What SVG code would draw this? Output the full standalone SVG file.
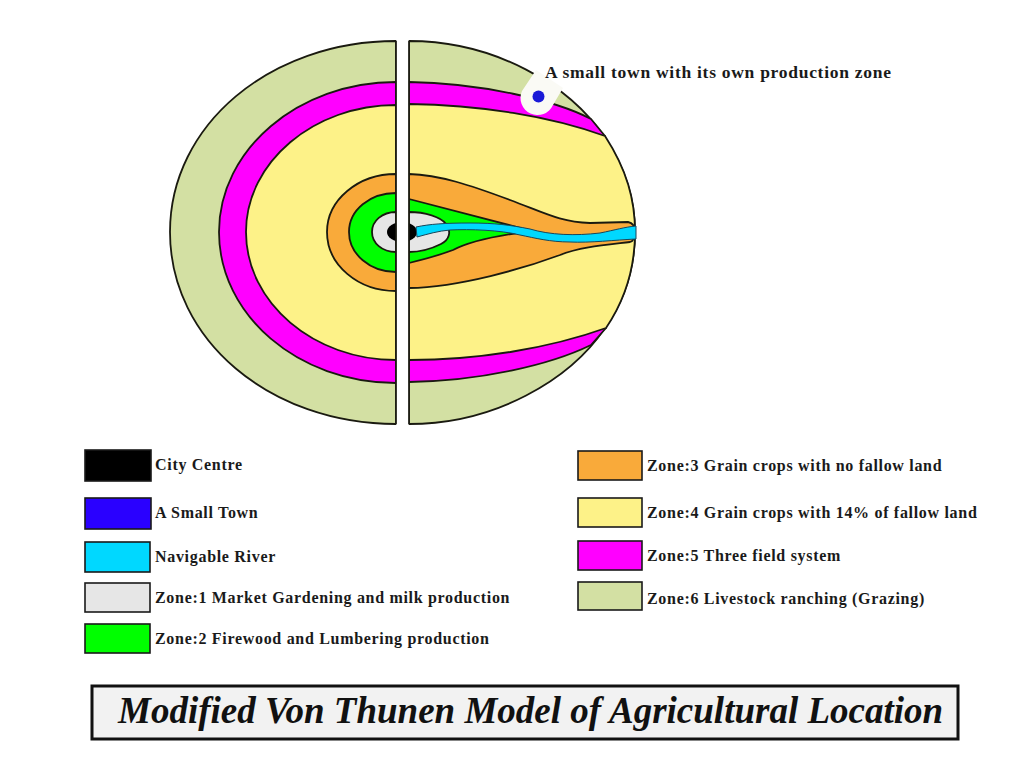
<svg xmlns="http://www.w3.org/2000/svg" width="1024" height="768" viewBox="0 0 1024 768">
<style>
.z{stroke:#1a1a10;stroke-width:1.800;stroke-linejoin:round}
.sw{stroke:#1a1a1a;stroke-width:1.600}
.t{font-family:"Liberation Serif","Times New Roman",serif;font-weight:bold;font-size:16px;letter-spacing:.69px;fill:#1a1a1a}
.big{font-size:17.500px;letter-spacing:.72px}
.title{font-family:"Liberation Serif","Times New Roman",serif;font-weight:bold;font-style:italic;font-size:37px;fill:#111}
</style>
<rect width="1024" height="768" fill="#fff"/>
<g id="zone6">
<path class="z" fill="#d3e0a3" d="M396 41C270 41 170 125 170 232C170 340 270 424 396 424Z"/>
<path class="z" fill="#d3e0a3" d="M409 41C495 41 570 85 605 138C627 170 635 200 635 232C635 265 627 297 605 328C570 380 495 424 409 424Z"/>
</g>
<g id="zone5">
<path class="z" fill="#ff00ff" d="M396 82C298 82 219 150 219 232C219 315 298 383 396 383Z"/>
<path class="z" fill="#ff00ff" d="M409 82C480 83 555 100 591 119L605 136L409 200ZM409 382C480 381 550 365 591 345L606 328L409 260Z"/>
</g>
<g id="zone4">
<path class="z" fill="#fdf288" d="M396 105C314 105 246 162 246 232C246 303 314 360 396 360Z"/>
<path class="z" fill="#fdf288" d="M409 104C480 105 550 116 605 136C627 170 635 200 635 232C635 265 627 297 606 328C550 348 480 360 409 360Z"/>
</g>
<g id="zone3">
<path class="z" fill="#f9aa3a" d="M396 174C358 174 327 200 327 232C327 265 358 291 396 291Z"/>
<path class="z" fill="#f9aa3a" d="M409 174C440 175 470 185 510 200C545 213 560 222 590 223L628 222C634 223 635 227 635 232C635 238 634 241 630 242C605 245 580 247 560 255C525 268 460 287 409 288Z"/>
</g>
<g id="zone2">
<path class="z" fill="#00ff00" d="M396 193C370 193 349 210 349 232C349 254 370 272 396 272Z"/>
<path class="z" fill="#00ff00" d="M409 199L532 231C500 235 470 241 453 250C440 255 425 259 409 263Z"/>
</g>
<g id="zone1">
<path class="z" fill="#e6e6e6" d="M396 212C382 212 372 221 372 232C372 243 382 252 396 252Z"/>
<path class="z" fill="#e6e6e6" d="M409 212C425 212 441 217 446 224C452 232 449 240 441 244C431 249 420 252 409 252Z"/>
</g>
<g id="city-centre">
<ellipse cx="402" cy="232" rx="15" ry="10" fill="#000"/>
</g>
<rect id="gap" x="396.500" y="40" width="12" height="385" fill="#fff"/>
<g id="river">
<path fill="#00d8ff" stroke="#17455a" stroke-width="1" d="M416 227C430 224 445 223 470 223C495 223 510 225 530 229C550 235 575 236 600 233C615 230 625 227 636 226L636 239C615 240 590 243 570 242C550 242 535 238 520 235C500 230 470 229 450 230C438 231 428 234 417 237Z"/>
</g>
<g id="small-town">
<path fill="#fafaf5" d="M522 91L536 70L563 88L553 105A16.500 16.500 0 0 1 522 91Z"/>
<circle cx="538.500" cy="96.500" r="6" fill="#1a1ad8"/>
<text class="t big" x="545" y="78">A small town with its own production zone</text>
</g>
<path id="divider" d="M396 41V424M409 41V424" stroke="#1a1a10" stroke-width="1.500" fill="none"/>
<g id="legend-city"><rect class="sw" x="85" y="450" width="66" height="31" fill="#000"/><text class="t" x="155" y="470">City Centre</text></g>
<g id="legend-town"><rect class="sw" x="85" y="498" width="66" height="31" fill="#2a00ff"/><text class="t" x="155" y="518">A Small Town</text></g>
<g id="legend-river"><rect class="sw" x="85" y="542" width="65" height="30" fill="#00d8ff"/><text class="t" x="155" y="562">Navigable River</text></g>
<g id="legend-z1"><rect class="sw" x="85" y="583" width="65" height="29" fill="#e6e6e6"/><text class="t" x="155" y="603">Zone:1 Market Gardening and milk production</text></g>
<g id="legend-z2"><rect class="sw" x="85" y="624" width="65" height="29" fill="#00ff00"/><text class="t" x="155" y="644">Zone:2 Firewood and Lumbering production</text></g>
<g id="legend-z3"><rect class="sw" x="578" y="451" width="64" height="29" fill="#f9aa3a"/><text class="t" x="647" y="471">Zone:3 Grain crops with no fallow land</text></g>
<g id="legend-z4"><rect class="sw" x="578" y="498" width="64" height="29" fill="#fdf288"/><text class="t" x="647" y="518">Zone:4 Grain crops with 14% of fallow land</text></g>
<g id="legend-z5"><rect class="sw" x="578" y="541" width="64" height="29" fill="#ff00ff"/><text class="t" x="647" y="561">Zone:5 Three field system</text></g>
<g id="legend-z6"><rect class="sw" x="578" y="582" width="64" height="28" fill="#d3e0a3"/><text class="t" x="647" y="604">Zone:6 Livestock ranching (Grazing)</text></g>
<g id="title">
<rect x="92" y="686" width="866" height="53" fill="#f2f2f2" stroke="#111" stroke-width="3"/>
<text class="title" x="118" y="723">Modified Von Thunen Model of Agricultural Location</text>
</g>
</svg>
